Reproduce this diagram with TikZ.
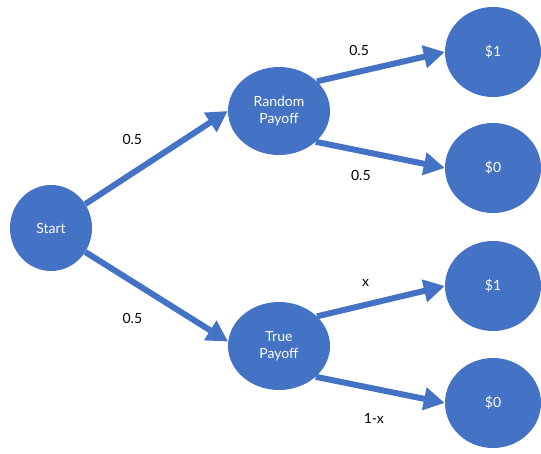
\documentclass[tikz,border=0pt]{standalone}
\usepackage{fontspec}
\setmainfont{Lato}
\usepackage{xcolor}
\usepackage{tikz}
\usetikzlibrary{positioning,arrows.meta,shapes.geometric}
\definecolor{treeblue}{RGB}{68,114,196}

\begin{document}
\begin{tikzpicture}[x=1pt, y=-1pt, auto]
    % Styles
    \tikzstyle{state} = [ellipse, inner sep=0pt, fill=treeblue, text=white,
                         align=center, font=\fontsize{14}{17}\selectfont]
    \tikzstyle{outcome} = [state, minimum width=96pt, minimum height=90pt]
    \tikzstyle{arrow} = [draw=treeblue, line width=6pt, -{Triangle[length=21pt,width=22pt]}]
    \tikzstyle{prob} = [font=\fontsize{14}{16}\selectfont, text=black]

    \useasboundingbox (0,0) rectangle (541,454);

    % Nodes
    \node (start) [state, minimum width=82pt, minimum height=86pt] at (51,228) {Start};
    \node (random) [state, minimum width=102pt, minimum height=88pt] at (279,111) {Random\\Payoff};
    \node (true) [state, minimum width=102pt, minimum height=88pt] at (279,346) {True\\Payoff};
    \node (rone) [outcome] at (493,52) {\$1};
    \node (rzero) [outcome] at (493,168) {\$0};
    \node (tone) [outcome] at (493,286) {\$1};
    \node (tzero) [outcome] at (493,403) {\$0};

    % Arrows
    \draw [arrow] (start.35) -- node[prob, pos=0.33, above=22pt] {0.5} (random.180);
    \draw [arrow] (start.-35) -- node[prob, pos=0.33, below=25pt] {0.5} (true.175);
    \draw [arrow] (random.38) -- node[prob, pos=0.33, above=10pt] {0.5} (rone.west);
    \draw [arrow] (random.-40) -- node[prob, pos=0.35, below=13pt] {0.5} (rzero.west);
    \draw [arrow] (true.38) -- node[prob, pos=0.38, above=12pt] {x} (tone.west);
    \draw [arrow] (true.-40) -- node[prob, pos=0.45, below=19pt] {1-x} (tzero.west);

\end{tikzpicture}
\end{document}
